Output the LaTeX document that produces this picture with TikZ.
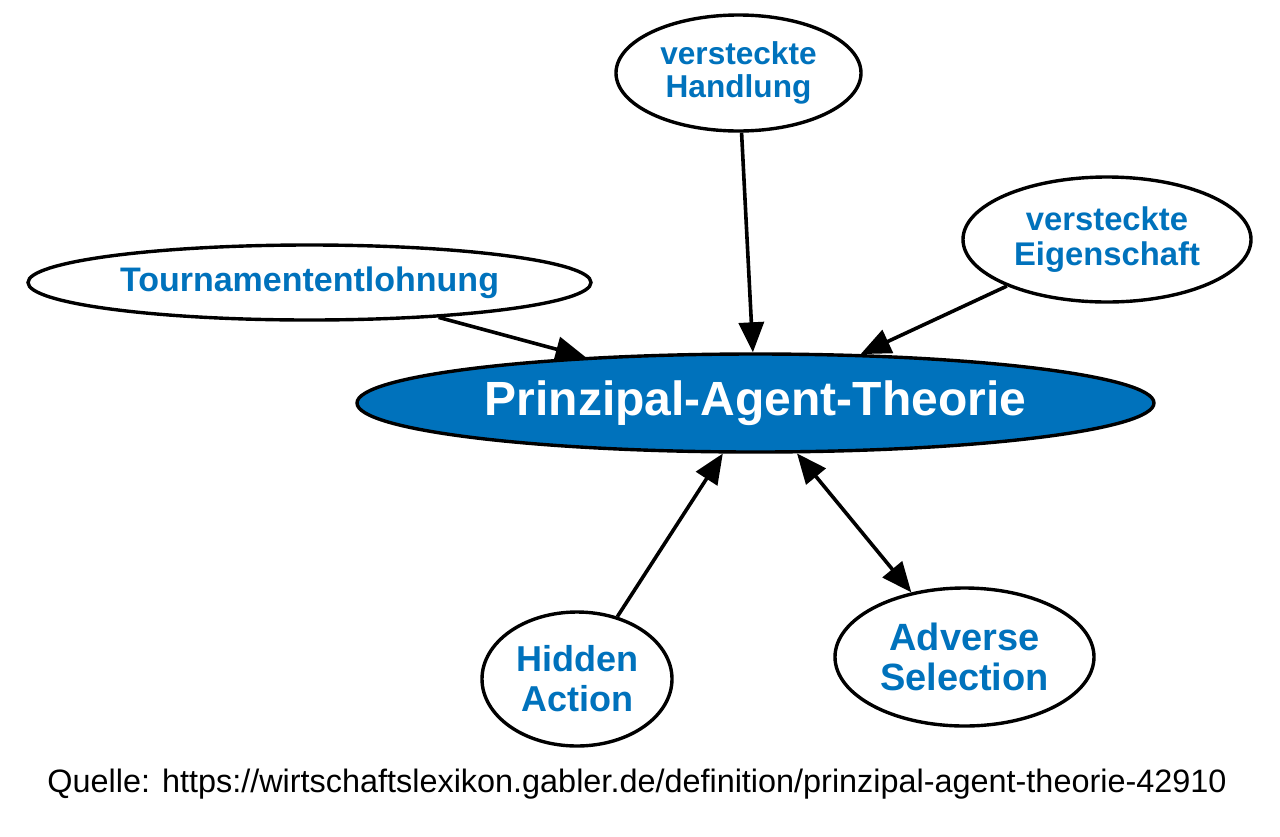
\documentclass[tikz,border=0pt]{standalone}
\usepackage{fontspec}
\setmainfont{Liberation Sans}
\usetikzlibrary{shapes.geometric,arrows.meta}
\definecolor{gablerblue}{HTML}{0072BC}
\begin{document}
\begin{tikzpicture}[x=0.5pt,y=-0.5pt,
    topic/.style={ellipse,draw=black,line width=1.7pt,fill=white,inner sep=0pt,
      text=gablerblue,font=\bfseries,align=center},
    theory/.style={topic,fill=gablerblue,text=white}]
      \useasboundingbox (0,0) rectangle (1280,836);
      \draw
        (755.5,403) node[theory,minimum width=398.5pt,minimum height=49pt,
          font=\bfseries\fontsize{24}{26}\selectfont] (pat){Prinzipal-Agent-Theorie}
        (738.5,73) node[topic,minimum width=122.5pt,minimum height=58pt,
          font=\bfseries\fontsize{15.8}{16.6}\selectfont] (handlung){versteckte\\Handlung}
        (1107,239.5) node[topic,minimum width=144pt,minimum height=62.5pt,
          font=\bfseries\fontsize{16.4}{17.4}\selectfont] (eigenschaft){versteckte\\Eigenschaft}
        (309.5,282.5) node[topic,minimum width=281.5pt,minimum height=37.5pt,
          font=\bfseries\fontsize{17}{18}\selectfont] (tournament){Tournamententlohnung}
        (577,679) node[topic,minimum width=95pt,minimum height=67pt,
          font=\bfseries\fontsize{18}{20}\selectfont] (hidden){Hidden\\Action}
        (964.5,657) node[topic,minimum width=129.5pt,minimum height=69pt,
          font=\bfseries\fontsize{19}{20}\selectfont] (adverse){Adverse\\Selection};
      \node[anchor=base,font=\fontsize{16.2}{18}\selectfont] (quelle) at (637,792)
        {Quelle: https://wirtschaftslexikon.gabler.de/definition/prinzipal-agent-theorie-42910};
      \begin{scope}[line width=1.8pt,-{Triangle[length=15pt,width=12.5pt]}]
        \draw (tournament) to (pat);
        \draw (handlung) to (pat);
        \draw (eigenschaft) to (pat);
        \draw (hidden) to (pat);
        \draw[{Triangle[length=15pt,width=12.5pt]}-{Triangle[length=15pt,width=12.5pt]}] (pat) to (adverse);
      \end{scope}
    \end{tikzpicture}
\end{document}
